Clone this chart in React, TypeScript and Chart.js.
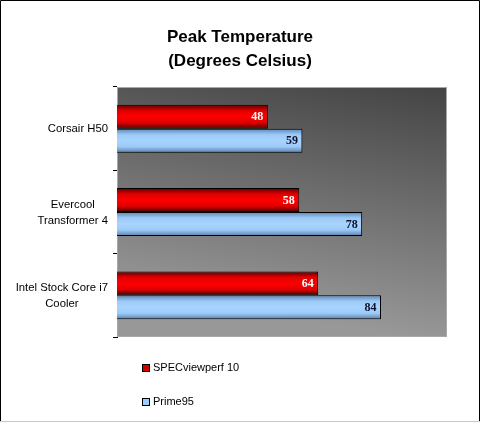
import { useEffect, useRef } from 'react';
import { Chart, registerables } from 'chart.js';

Chart.register(...registerables);

const categories: string[][] = [['Corsair H50'], ['Evercool', 'Transformer 4'], ['Intel Stock Core i7', 'Cooler']];
const seriesNames = ['SPECviewperf 10', 'Prime95'];
const specValues = [48, 58, 64];
const primeValues = [59, 78, 84];
const titleLines = ['Peak Temperature', '(Degrees Celsius)'];
const xMax = 105;

const CAT_PCT = 0.575;
const SANS = 'Arial, "Liberation Sans", sans-serif';
const SERIF = '"Times New Roman", "Liberation Serif", serif';

const redStops: [number, string][] = [[0, '#5a0000'], [0.25, '#e00000'], [0.5, '#ff0000'], [0.75, '#e00000'], [1, '#4a0000']];
const blueStops: [number, string][] = [[0, '#5c84b4'], [0.25, '#9ccaf6'], [0.5, '#a8d4ff'], [0.75, '#9ccaf6'], [1, '#5a7eac']];

function barFill(idx: number, fallback: string, stops: [number, string][]) {
  return (c: any) => {
    const chart = c.chart;
    const y = chart.scales && chart.scales.y;
    if (!y || c.dataIndex === undefined || !chart.chartArea) return fallback;
    const center = y.getPixelForValue(c.dataIndex);
    const band = Math.abs(y.getPixelForValue(1) - y.getPixelForValue(0));
    const thick = (band * CAT_PCT) / 2;
    const top = idx === 0 ? center - thick : center;
    const g = chart.ctx.createLinearGradient(0, top, 0, top + thick);
    stops.forEach(([o, col]) => g.addColorStop(o, col));
    return g;
  };
}

const decorPlugin = {
  id: 'decor',
  beforeDatasetsDraw(chart: any) {
    const { ctx, chartArea: a } = chart;
    ctx.save();
    const g = ctx.createLinearGradient(a.right, a.top, a.right - 40, a.bottom);
    g.addColorStop(0, '#444444');
    g.addColorStop(1, '#989898');
    ctx.fillStyle = g;
    ctx.fillRect(a.left, a.top, a.right - a.left, a.bottom - a.top);
    ctx.strokeStyle = '#a8a8a8';
    ctx.lineWidth = 1;
    ctx.strokeRect(a.left + 0.5, a.top + 0.5, a.right - a.left - 1, a.bottom - a.top - 1);
    ctx.restore();
  },
  afterDatasetsDraw(chart: any) {
    const { ctx } = chart;
    ctx.save();
    ctx.font = `bold 12px ${SERIF}`;
    ctx.textAlign = 'right';
    ctx.textBaseline = 'middle';
    chart.data.datasets.forEach((ds: any, di: number) => {
      const meta = chart.getDatasetMeta(di);
      meta.data.forEach((el: any, i: number) => {
        ctx.fillStyle = di === 0 ? '#ffffff' : '#101030';
        ctx.fillText(String(ds.data[i]), el.x - 4.5, el.y + 0.5);
      });
    });
    ctx.restore();
  },
  afterDraw(chart: any) {
    const { ctx, chartArea: a } = chart;
    const y = chart.scales.y;
    ctx.save();
    // category labels
    ctx.font = `11.3px ${SANS}`;
    ctx.fillStyle = '#000';
    ctx.textAlign = 'center';
    ctx.textBaseline = 'middle';
    categories.forEach((lines, i) => {
      const c = y.getPixelForValue(i);
      const w = Math.max(...lines.map((l) => ctx.measureText(l).width));
      const cx = a.left - 9 - w / 2;
      const lh = 16;
      lines.forEach((l, k) => {
        ctx.fillText(l, cx, c + (k - (lines.length - 1) / 2) * lh + 0.5);
      });
    });
    // title
    ctx.font = `bold 17px ${SANS}`;
    titleLines.forEach((t, k) => ctx.fillText(t, 240, 37 + k * 24));
    // legend
    ctx.font = `11px ${SANS}`;
    ctx.textAlign = 'left';
    const legendCols = ['#cc0000', '#99ccff'];
    seriesNames.forEach((n, k) => {
      const yy = 368 + k * 34;
      ctx.fillStyle = legendCols[k];
      ctx.fillRect(143, yy - 3, 6, 6);
      ctx.strokeStyle = '#000';
      ctx.lineWidth = 1;
      ctx.strokeRect(142.5, yy - 3.5, 7, 7);
      ctx.fillStyle = '#000';
      ctx.fillText(n, 153, yy);
    });
    // outer border
    ctx.strokeStyle = '#000';
    ctx.beginPath();
    ctx.moveTo(0.5, 422);
    ctx.lineTo(0.5, 0.5);
    ctx.lineTo(479.5, 0.5);
    ctx.lineTo(479.5, 422);
    ctx.stroke();
    ctx.strokeStyle = '#c8c8c8';
    ctx.beginPath();
    ctx.moveTo(0, 421.5);
    ctx.lineTo(480, 421.5);
    ctx.stroke();
    ctx.restore();
  },
};

export default function App() {
  const ref = useRef<HTMLCanvasElement | null>(null);
  useEffect(() => {
    document.body.style.margin = '0';
    if (!ref.current) return;
    const chart = new Chart(ref.current, {
      type: 'bar',
      data: {
        labels: categories.map((c) => c.join(' ')),
        datasets: [
          {
            label: seriesNames[0],
            data: specValues,
            backgroundColor: barFill(0, '#ff0000', redStops),
            borderColor: '#000',
            borderWidth: 1,
            categoryPercentage: CAT_PCT,
            barPercentage: 1,
          },
          {
            label: seriesNames[1],
            data: primeValues,
            backgroundColor: barFill(1, '#99ccff', blueStops),
            borderColor: '#000',
            borderWidth: 1,
            categoryPercentage: CAT_PCT,
            barPercentage: 1,
          },
        ],
      },
      options: {
        indexAxis: 'y',
        responsive: false,
        animation: false,
        devicePixelRatio: 1,
        layout: { padding: { left: 0, top: 87, right: 33, bottom: 86 } },
        plugins: { legend: { display: false }, title: { display: false }, tooltip: { enabled: false } },
        scales: {
          x: { display: false, min: 0, max: xMax },
          y: {
            display: true,
            afterFit: (s: any) => {
              s.width = 117;
            },
            ticks: { display: false },
            grid: { drawOnChartArea: false, drawTicks: true, tickLength: 4, color: '#000', offset: true },
            border: { color: '#000', width: 1 },
          },
        },
      },
      plugins: [decorPlugin],
    });
    return () => chart.destroy();
  }, []);
  return (
    <div style={{ width: 480, height: 423 }}>
      <canvas ref={ref} width={480} height={423} style={{ display: 'block', width: 480, height: 423 }} />
    </div>
  );
}
